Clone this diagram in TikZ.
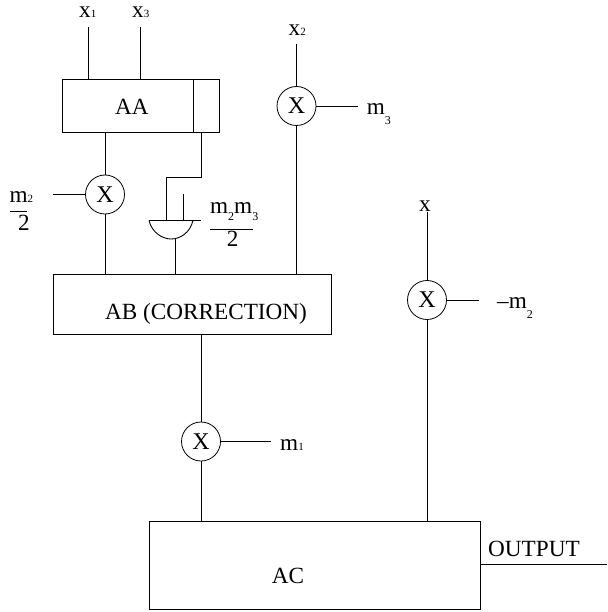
\documentclass[tikz,border=0pt]{standalone}
\usepackage{fontspec}
\setmainfont{Liberation Serif}
\newcommand{\tinysub}[1]{{\fontsize{11}{11}\selectfont #1}}
\newcommand{\lowsub}[2]{\raisebox{-#1pt}{\fontsize{12}{12}\selectfont #2}}
\tikzset{
  x=1pt,y=-1pt,
  wire/.style={draw=black,line width=0.9pt},
  blockbox/.style={draw=black,line width=0.9pt,inner sep=0pt,anchor=north west},
  mult/.style={circle,draw=black,line width=0.8pt,inner sep=0pt,minimum size=39pt,font=\fontsize{24}{24}\selectfont},
  lab/.style={inner sep=0pt,anchor=base west,font=\fontsize{23.2}{24}\selectfont},
}
\begin{document}
\begin{tikzpicture}
\useasboundingbox (0,0) rectangle (607,612);
% blocks
\node[blockbox,minimum width=130.5pt,minimum height=53pt] (aa) at (62,79.5) {};
\node[blockbox,minimum width=26pt,minimum height=53pt] (aaside) at (192.5,79.5) {};
\node[lab] (aat) at (115,115) {AA};
\node[blockbox,minimum width=278pt,minimum height=60pt] (ab) at (53,273.5) {};
\node[lab] (abt) at (105,319) {AB (CORRECTION)};
\node[blockbox,minimum width=331pt,minimum height=88pt] (ac) at (149,520.5) {};
\node[lab] (act) at (271.7,583) {AC};
% multipliers
\node[mult] (m1) at (105,194.5) {\raisebox{-1pt}{X}};
\node[mult] (m2) at (296.5,106) {\raisebox{-1pt}{X}};
\node[mult] (m3) at (427,300) {\raisebox{-1pt}{X}};
\node[mult] (m4) at (201,441.5) {\raisebox{-1pt}{X}};
% text labels
\node[lab] (x1) at (79,18) {x\tinysub{1}};
\node[lab] (x3) at (132,18) {x\tinysub{3}};
\node[lab] (x2) at (288.5,36) {x\tinysub{2}};
\node[lab] (x) at (419,211.7) {x};
\node[lab] (lm3) at (366.7,115) {m\lowsub{10}{3}};
\node[lab] (lm2) at (497,308.5) {–m\lowsub{10}{2}};
\node[lab] (lm1) at (280,450) {m\tinysub{1}};
\node[lab] (lmm) at (9.5,203) {m\tinysub{2}};
\node[lab] (ltwoa) at (18,230) {2};
\node[lab] (lmmm) at (210,213) {m\lowsub{8}{2}m\lowsub{8}{3}};
\node[lab] (ltwob) at (226.7,246.7) {2};
\node[lab] (lout) at (488,556) {OUTPUT};
% free ends
\coordinate (i1) at (88,27);
\coordinate (i3) at (140,27);
\coordinate (i2) at (296.5,44);
\coordinate (ix) at (427,212);
\coordinate (cm2) at (53,194.5);
\coordinate (cm3) at (358,106);
\coordinate (cmx) at (479,300);
\coordinate (cm1) at (271,441.5);
\coordinate (oe) at (607,564.5);
\coordinate (gl) at (149,220.5);
\coordinate (gr) at (193,220.5);
\coordinate (ge) at (201,220.5);
\coordinate (gb) at (175,239);
\coordinate (gi) at (183,194);
% connectors
\draw[wire] (i1) -- (i1 |- aa.north);
\draw[wire] (i3) -- (i3 |- aa.north);
\draw[wire] (m1 |- aa.south) -- (m1.north);
\draw[wire] (m1.south) -- (m1 |- ab.north);
\draw[wire] (cm2) -- (m1.west);
\draw[wire] (201,132.5) -- (201,177) -- (166,177) -- (166,220.5);
\draw[wire] (gi) -- (gi |- gl);
\draw[wire] (gl) -- (ge);
\draw[wire] (gl) .. controls (152,233) and (163,239) .. (171,239) .. controls (180,239) and (190,233) .. (gr);
\draw[wire] (gb) -- (gb |- ab.north);
\draw[wire] (i2) -- (m2.north);
\draw[wire] (m2.south) -- (m2 |- ab.north);
\draw[wire] (m2.east) -- (cm3);
\draw[wire] (ix) -- (m3.north);
\draw[wire] (m3.south) -- (m3 |- ac.north);
\draw[wire] (m3.east) -- (cmx);
\draw[wire] (m4 |- ab.south) -- (m4.north);
\draw[wire] (m4.south) -- (m4 |- ac.north);
\draw[wire] (m4.east) -- (cm1);
\draw[wire] (oe -| ac.east) -- (oe);
% fraction bars
\draw[wire] (10,211.5) -- (27,211.5);
\draw[wire] (210,229.5) -- (253,229.5);
\end{tikzpicture}
\end{document}
